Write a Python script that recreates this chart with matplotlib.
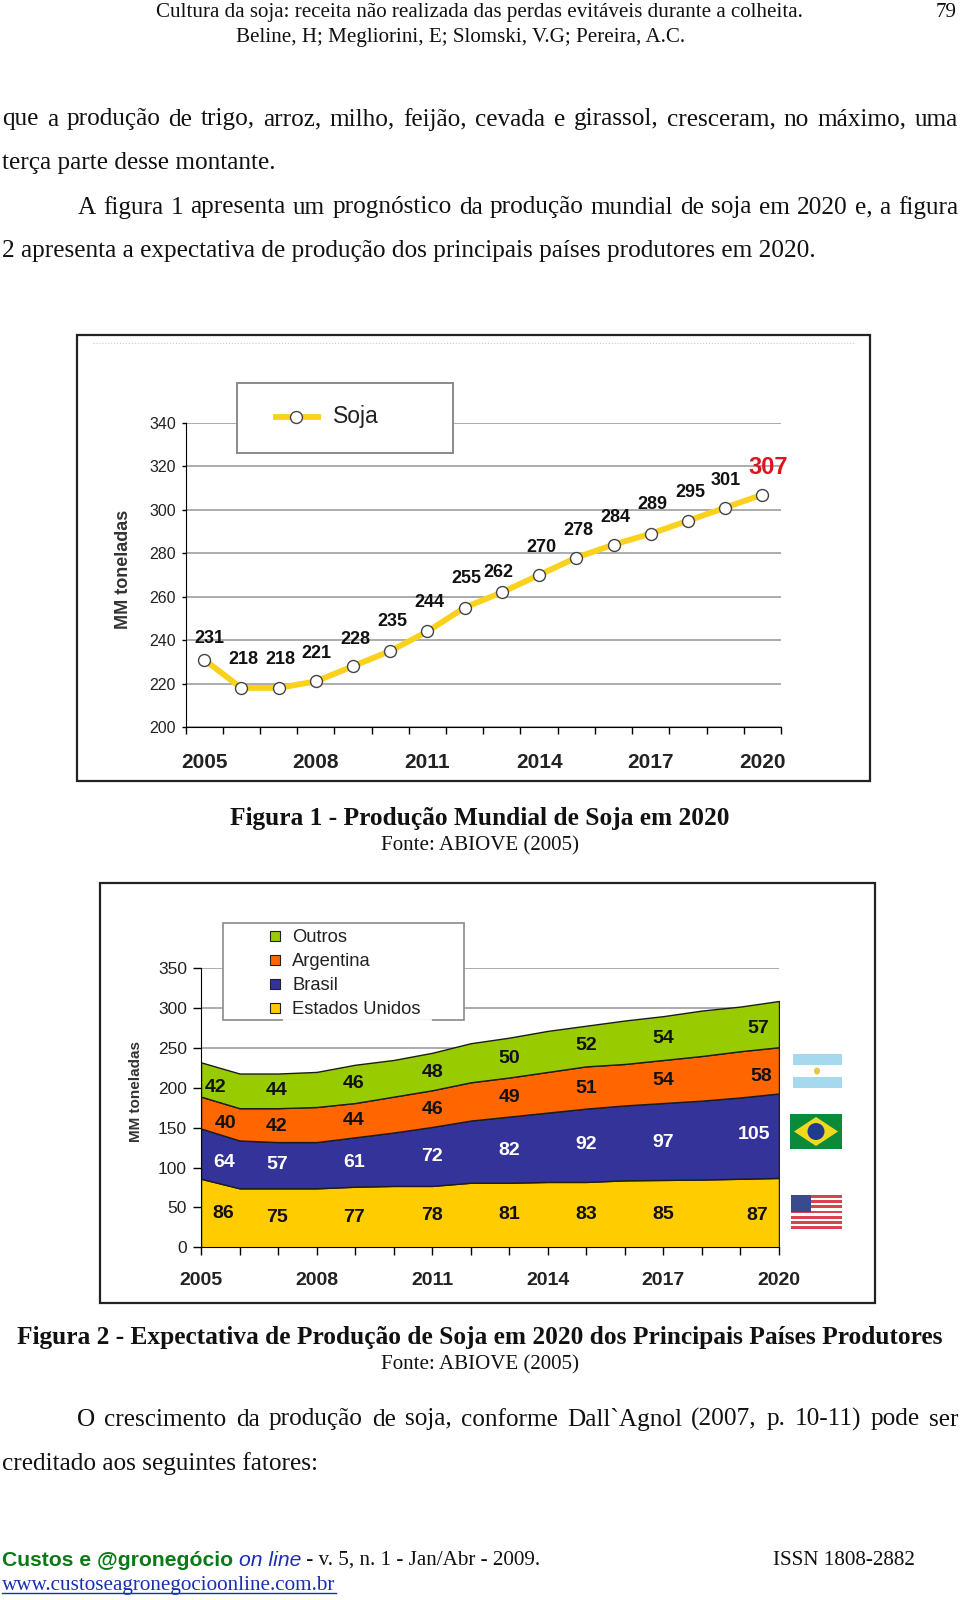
# Page with the two soybean charts (Figura 1 and Figura 2)
import matplotlib
matplotlib.use("Agg")
import matplotlib.pyplot as plt
from matplotlib.patches import Rectangle, Polygon, Ellipse
from matplotlib.lines import Line2D

SERIF = ["Liberation Serif", "DejaVu Serif"]
SANS = ["Liberation Sans", "DejaVu Sans"]

# figure 1 data
soja_years = list(range(2005, 2021))
soja_values = [231, 218, 218, 221, 228, 235, 244, 255, 262, 270, 278, 284, 289, 295, 301, 307]
soja_label_dx = [5, 2, 2, 1, 2, 2, 2, 2, -3, 2, 2, 2, 2, 2, 1, 6]
soja_label_dy = [21, 28, 28, 28, 27, 29, 29, 29, 20, 28, 27, 27, 29, 28, 27, 27]
soja_yticks = [200, 220, 240, 260, 280, 300, 320, 340]
year_labels = [2005, 2008, 2011, 2014, 2017, 2020]

# figure 2 data
estados_unidos = [86, 74, 74, 74, 76, 77, 77, 81, 81, 82, 82, 84, 84.5, 85, 86, 87]
brasil = [63, 60, 58, 58, 62, 67, 74, 78, 83, 87, 92, 94, 96.5, 99, 102, 106]
argentina = [40, 40.5, 42.5, 44, 43, 45, 46, 48, 49, 51, 53, 52, 54, 56, 58, 58]
outros = [43, 43.5, 43.5, 44, 48, 46, 47, 49, 50, 51.5, 51, 54.5, 55, 57, 56, 58]
stack_colors = ["#ffcc00", "#333399", "#ff6600", "#99cc00"]
prod_yticks = [0, 50, 100, 150, 200, 250, 300, 350]

label_years = [2006.97, 2008.97, 2011, 2013, 2015, 2017]
us_labels = [86, 75, 77, 78, 81, 83, 85, 87]
br_labels = [64, 57, 61, 72, 82, 92, 97, 105]
ar_labels = [40, 42, 44, 46, 49, 51, 54, 58]
ot_labels = [42, 44, 46, 48, 50, 52, 54, 57]
us_label_y = [41.8, 37.7, 37.7, 39.3, 40.6, 40.6, 41.4, 39.3]
br_label_y = [106.7, 104.2, 107, 114, 121, 128.5, 131.8, 141.8]
ar_label_y = [155.6, 151.5, 159, 172.4, 188.3, 199.6, 208.8, 214]
ot_label_y = [200.8, 196.6, 205.9, 219.7, 237, 252.7, 262, 275]

W, H = 960, 1600
fig = plt.figure(figsize=(W / 100, H / 100), dpi=100, facecolor="white")
page = fig.add_axes([0, 0, 1, 1], zorder=0)
page.set_xlim(0, W)
page.set_ylim(H, 0)
page.axis("off")
top = fig.add_axes([0, 0, 1, 1], zorder=5)
top.set_xlim(0, W)
top.set_ylim(H, 0)
top.axis("off")
top.patch.set_alpha(0)


def text_width(s, **kw):
    t = page.text(0, 0, s, **kw)
    w = t.get_window_extent(fig.canvas.get_renderer()).width
    t.remove()
    return w


def justified(s, x0, x1, y, size=18.2):
    # spread the words so the line fills x0..x1
    words = s.split()
    widths = [text_width(w, family=SERIF, size=size) for w in words]
    gap = (x1 - x0 - sum(widths)) / (len(words) - 1)
    x = x0
    for w, ww in zip(words, widths):
        page.text(x, y + 2.5, w, family=SERIF, size=size, va="center", color="#111111")
        x += ww + gap


def ptext(x, y, s, size=18.2, ha="left", family=SERIF, **kw):
    kw.setdefault("color", "#111111")
    page.text(x, y + 2.5, s, family=family, size=size, ha=ha, va="center", **kw)


# running text
ptext(479, 10, "Cultura da soja: receita não realizada das perdas evitáveis durante a colheita.", size=15.1, ha="center")
ptext(461, 35, "Beline, H; Megliorini, E; Slomski, V.G; Pereira, A.C.", size=15.1, ha="center")
ptext(957, 10, "79", size=15.1, ha="right")
justified("que a produção de trigo, arroz, milho, feijão, cevada e girassol, cresceram, no máximo, uma", 2, 958, 117)
ptext(2, 161, "terça parte desse montante.")
justified("A figura 1 apresenta um prognóstico da produção mundial de soja em 2020 e, a figura", 78, 958, 205)
ptext(2, 249, "2 apresenta a expectativa de produção dos principais países produtores em 2020.")
ptext(480, 816, "Figura 1 - Produção Mundial de Soja em 2020", size=18.25, ha="center", weight="bold")
ptext(480, 843, "Fonte: ABIOVE (2005)", size=15.1, ha="center")
ptext(480, 1335, "Figura 2 - Expectativa de Produção de Soja em 2020 dos Principais Países Produtores", size=18.25, ha="center", weight="bold")
ptext(480, 1362, "Fonte: ABIOVE (2005)", size=15.1, ha="center")
justified("O crescimento da produção de soja, conforme Dall`Agnol (2007, p. 10-11) pode ser", 77, 958, 1417)
ptext(2, 1461, "creditado aos seguintes fatores:")

# footer
x = 2
for s, kw in [("Custos e @gronegócio ", dict(family=SANS, weight="bold", color="#0b7a16")),
              ("on line", dict(family=SANS, style="italic", color="#1a2fb0")),
              (" - v. 5, n. 1 - Jan/Abr - 2009.", dict(family=SERIF, color="#111111"))]:
    page.text(x, 1560, s, size=15.2, va="center", **kw)
    x += text_width(s.replace(" ", "\u00a0"), size=15.2, **kw)
ptext(773, 1558, "ISSN 1808-2882", size=15.2)
ptext(2, 1583, "www.custoseagronegocioonline.com.br", size=15.2, color="#1a2fb0")
page.add_line(Line2D([2, 336], [1593, 1593], color="#1a2fb0", lw=1))

# chart frames
page.add_patch(Rectangle((77, 335), 793, 446, fc="white", ec="#222222", lw=1.6))
page.add_patch(Rectangle((100, 883), 775, 420, fc="white", ec="#222222", lw=1.6))
page.add_line(Line2D([93, 854], [343, 343], color="#cccccc", lw=0.8, ls=":"))


def chart_axes(x0, x1, ytop, ybottom):
    ax = fig.add_axes([x0 / W, 1 - ybottom / H, (x1 - x0) / W, (ybottom - ytop) / H], zorder=2)
    ax.patch.set_alpha(0)
    ax.spines["top"].set_visible(False)
    ax.spines["right"].set_visible(False)
    ax.yaxis.grid(True, color="#a6a6a6", lw=1.3)
    ax.set_axisbelow(True)
    return ax


# Figure 1
ax1 = chart_axes(185.5, 781, 423, 727)
ax1.plot(soja_years, soja_values, color="#fad21e", lw=4.2, marker="o", ms=8.6, mfc="white",
         mec="#444444", mew=1, solid_capstyle="round", clip_on=False)
ax1.set_xlim(2004.5, 2020.5)
ax1.set_ylim(200, 340)
ax1.set_yticks(soja_yticks)
ax1.set_xticks(year_labels)
ax1.set_xticks([y - 0.5 for y in soja_years] + [2020.5], minor=True)
ax1.tick_params(axis="x", which="major", length=0, pad=19)
ax1.tick_params(axis="x", which="minor", length=5, width=1)
ax1.tick_params(axis="y", length=3, width=1, pad=4)
for lab in ax1.get_xticklabels():
    lab.set(family=SANS, size=15, weight="bold", color="#222222")
for lab in ax1.get_yticklabels():
    lab.set(family=SANS, size=11.5, color="#222222")
top.text(123, 569, "MM toneladas", rotation=90, family=SANS, size=13, weight="bold",
         color="#333333", ha="center", va="center")
for yr, v, dx, dy in zip(soja_years, soja_values, soja_label_dx, soja_label_dy):
    last = yr == soja_years[-1]
    ax1.annotate(str(v), (yr, v), xytext=(dx * 0.72, dy * 0.72), textcoords="offset points",
                 ha="center", va="center", family=SANS, weight="bold",
                 size=17 if last else 13, color="#e0141c" if last else "#111111")

# Figure 1 legend
top.add_patch(Rectangle((237, 383), 216, 70, fc="white", ec="#8a8a8a", lw=1.4))
top.add_line(Line2D([276, 318], [417, 417], color="#fad21e", lw=4.2))
top.plot([296], [417], "o", ms=8.6, mfc="white", mec="#444444", mew=1)
top.text(333, 416, "Soja", family=SANS, size=16.5, va="center", color="#222222")

# Figure 2
ax2 = chart_axes(201, 779, 968.3, 1247.3)
ax2.stackplot(soja_years, estados_unidos, brasil, argentina, outros, colors=stack_colors,
              edgecolor="#1c1c1c", lw=1)
ax2.set_xlim(2005, 2020)
ax2.set_ylim(0, 350)
ax2.set_yticks(prod_yticks)
ax2.set_xticks(year_labels)
ax2.set_xticks(soja_years, minor=True)
ax2.tick_params(axis="x", which="major", length=6, width=1, pad=12)
ax2.tick_params(axis="x", which="minor", length=6, width=1)
ax2.tick_params(axis="y", length=6, width=1, pad=4)
for lab in ax2.get_xticklabels():
    lab.set(family=SANS, size=14, weight="bold", color="#222222")
for lab in ax2.get_yticklabels():
    lab.set(family=SANS, size=12.5, color="#222222")
top.text(136, 1091, "MM toneladas", rotation=90, family=SANS, size=11, weight="bold",
         color="#333333", ha="center", va="center")

left_right = [(2005.59, 2019.43), (2005.59, 2019.34), (2005.65, 2019.54), (2005.39, 2019.47)]
rows = [(us_labels, us_label_y, "#111111"), (br_labels, br_label_y, "white"),
        (ar_labels, ar_label_y, "#111111"), (ot_labels, ot_label_y, "#111111")]
for (labels, ys, col), (xl, xr) in zip(rows, left_right):
    xs = [xl] + label_years + [xr]
    for xv, yv, lab in zip(xs, ys, labels):
        ax2.text(xv, yv, str(lab), ha="center", va="center", family=SANS, size=14,
                 weight="bold", color=col)

# Figure 2 legend
top.add_patch(Rectangle((223, 923), 241, 97, fc="white", ec="#8a8a8a", lw=1.2))
top.add_line(Line2D([284, 430], [1020, 1020], color="white", lw=2))
for name, col, yy in zip(["Outros", "Argentina", "Brasil", "Estados Unidos"], stack_colors[::-1],
                         [936, 960, 984, 1008]):
    top.add_patch(Rectangle((270, yy - 5), 10, 10, fc=col, ec="#222222", lw=0.8))
    top.text(292, yy + 1, name, family=SANS, size=13.2, va="center", color="#222222")

# flags
top.add_patch(Rectangle((793, 1054), 49, 34, fc="#a6d8ee", ec="none"))
top.add_patch(Rectangle((793, 1065), 49, 12, fc="white", ec="none"))
top.add_patch(Ellipse((817, 1071), 6, 7, fc="#e8c840", ec="none"))

top.add_patch(Rectangle((790, 1114), 52, 35, fc="#0b8a3a", ec="none"))
top.add_patch(Polygon([(794, 1131.5), (816, 1117), (838, 1131.5), (816, 1146)], fc="#f3d91e", ec="none"))
top.add_patch(Ellipse((816, 1131.5), 17, 17, fc="#1f3b8c", ec="none"))

top.add_patch(Rectangle((791, 1195), 51, 34, fc="white", ec="none"))
for i in range(0, 13, 2):
    top.add_patch(Rectangle((791, 1195 + i * 34 / 13), 51, 34 / 13, fc="#d9434e", ec="none"))
top.add_patch(Rectangle((791, 1195), 20, 17, fc="#3b4a8c", ec="none"))

fig.savefig("out.png", dpi=100)
